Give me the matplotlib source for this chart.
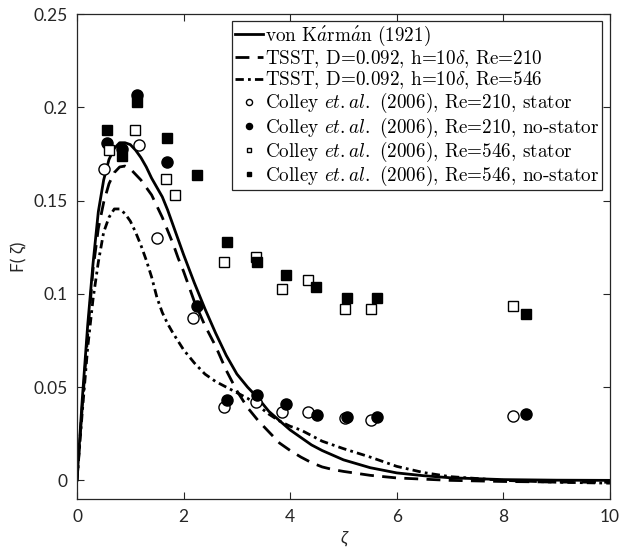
import matplotlib
matplotlib.use("Agg")
import matplotlib.pyplot as plt

plt.rcParams['mathtext.fontset'] = 'cm'
plt.rcParams['font.family'] = ['Lato', 'DejaVu Sans']
plt.rcParams['axes.unicode_minus'] = False

# von Karman (1921)
vk_z = [0, 0.1, 0.2, 0.3, 0.4, 0.5, 0.6, 0.7, 0.8, 0.9, 1.0, 1.1, 1.2, 1.3, 1.4, 1.5,
        1.6, 1.7, 1.8, 1.9, 2.0, 2.2, 2.4, 2.6, 2.8, 3.0, 3.2, 3.4, 3.6, 3.8, 4.0, 4.2,
        4.4, 4.6, 4.8, 5.0, 5.5, 6.0, 6.5, 7.0, 8.0, 9.0, 10]
vk_F = [0, 0.044, 0.083, 0.116, 0.144, 0.161, 0.172, 0.178, 0.181, 0.181, 0.180, 0.177,
        0.173, 0.168, 0.162, 0.157, 0.152, 0.145, 0.137, 0.129, 0.121, 0.106, 0.092,
        0.079, 0.067, 0.057, 0.050, 0.044, 0.037, 0.032, 0.027, 0.023, 0.019, 0.016,
        0.0135, 0.011, 0.0068, 0.0040, 0.0025, 0.0014, 0.0004, 0.0001, 0.0]

# TSST Re=210
t210_z = [0, 0.1, 0.2, 0.3, 0.4, 0.5, 0.6, 0.7, 0.8, 0.9, 1.0, 1.1, 1.2, 1.3, 1.4, 1.5,
          1.6, 1.7, 1.8, 1.9, 2.0, 2.2, 2.4, 2.6, 2.8, 3.0, 3.2, 3.4, 3.6, 3.8, 4.0, 4.2,
          4.4, 4.6, 4.8, 5.0, 5.5, 6.0, 7.0, 8.0, 9.0, 10]
t210_F = [0, 0.040, 0.078, 0.113, 0.135, 0.149, 0.159, 0.165, 0.168, 0.1685, 0.167,
          0.164, 0.161, 0.157, 0.153, 0.147, 0.141, 0.134, 0.127, 0.119, 0.112, 0.096,
          0.083, 0.072, 0.059, 0.048, 0.039, 0.032, 0.026, 0.020, 0.016, 0.0125, 0.0095,
          0.0072, 0.0058, 0.0048, 0.0027, 0.0013, 0.0, -0.0006, -0.0009, -0.001]

# TSST Re=546
t546_z = [0, 0.1, 0.2, 0.3, 0.4, 0.5, 0.6, 0.7, 0.8, 0.9, 1.0, 1.1, 1.2, 1.3, 1.4, 1.5,
          1.6, 1.7, 1.8, 1.9, 2.0, 2.2, 2.4, 2.6, 2.8, 3.0, 3.2, 3.4, 3.6, 3.8, 4.0, 4.2,
          4.4, 4.6, 4.8, 5.0, 5.5, 6.0, 6.5, 7.0, 8.0, 9.0, 10]
t546_F = [0, 0.037, 0.071, 0.097, 0.117, 0.133, 0.141, 0.1455, 0.1455, 0.143, 0.139,
          0.133, 0.126, 0.118, 0.109, 0.098, 0.090, 0.084, 0.079, 0.0745, 0.070, 0.063,
          0.057, 0.053, 0.050, 0.047, 0.044, 0.040, 0.0355, 0.0318, 0.029, 0.027, 0.024,
          0.021, 0.019, 0.017, 0.0125, 0.0075, 0.0042, 0.002, 0.0, -0.001, -0.0015]

# Colley et al. (2006)
c210s_z = [0.50, 1.17, 1.51, 2.17, 2.76, 3.35, 3.85, 4.33, 5.02, 5.51, 8.18]
c210s_F = [0.167, 0.180, 0.130, 0.087, 0.0394, 0.0421, 0.0367, 0.0364, 0.0335, 0.0326, 0.0344]
c210n_z = [0.57, 0.85, 1.13, 1.69, 2.26, 2.82, 3.37, 3.93, 4.50, 5.06, 5.62, 8.42]
c210n_F = [0.181, 0.1774, 0.2065, 0.1706, 0.0937, 0.043, 0.046, 0.041, 0.0353, 0.034, 0.034, 0.0358]
c546s_z = [0.60, 1.09, 1.67, 1.84, 2.76, 3.35, 3.85, 4.34, 5.02, 5.51, 8.18]
c546s_F = [0.177, 0.188, 0.1613, 0.1529, 0.117, 0.120, 0.1027, 0.1072, 0.0919, 0.0919, 0.0935]
c546n_z = [0.57, 0.85, 1.13, 1.69, 2.26, 2.82, 3.37, 3.93, 4.49, 5.06, 5.62, 8.42]
c546n_F = [0.188, 0.174, 0.203, 0.1837, 0.1638, 0.1276, 0.117, 0.1099, 0.1034, 0.0977, 0.0977, 0.0891]

labels = [r'von K$\acute{a}$rm$\acute{a}$n (1921)',
          r'TSST, D=0.092, h=10$\delta$, Re=210',
          r'TSST, D=0.092, h=10$\delta$, Re=546',
          r'Colley $et.al.$ (2006), Re=210, stator',
          r'Colley $et.al.$ (2006), Re=210, no-stator',
          r'Colley $et.al.$ (2006), Re=546, stator',
          r'Colley $et.al.$ (2006), Re=546, no-stator']

fig = plt.figure(figsize=(6.19, 5.59), dpi=100)
ax = fig.add_axes([0.1244, 0.1073, 0.861, 0.8676])

ax.plot(vk_z, vk_F, color='black', lw=2, label=labels[0])
ax.plot(t210_z, t210_F, color='black', lw=2, dashes=(5, 3), label=labels[1])
ax.plot(t546_z, t546_F, color='black', lw=2, dashes=(3, 1.5, 1, 1.5), label=labels[2])

ax.plot(c210s_z, c210s_F, 'o', mfc='white', mec='black', ms=8, mew=1, label=labels[3])
ax.plot(c210n_z, c210n_F, 'o', mfc='black', mec='black', ms=8, mew=1, label=labels[4])
ax.plot(c546s_z, c546s_F, 's', mfc='white', mec='black', ms=6.5, mew=1, label=labels[5])
ax.plot(c546n_z, c546n_F, 's', mfc='black', mec='black', ms=6.5, mew=1, label=labels[6])

ax.set_xlim(0, 10)
ax.set_ylim(-0.01, 0.25)
ax.set_xticks([0, 2, 4, 6, 8, 10])
ax.set_xticklabels(['0', '2', '4', '6', '8', '10'])
ax.set_yticks([0, 0.05, 0.1, 0.15, 0.2, 0.25])
ax.set_yticklabels(['0', '0.05', '0.1', '0.15', '0.2', '0.25'])
ax.tick_params(direction='in', top=True, right=True, labelsize=12.5,
               length=5, width=0.8, colors='#262626', pad=7)
for s in ax.spines.values():
    s.set_color('#262626')
    s.set_linewidth(0.9)

ax.set_xlabel('ζ', fontsize=13, color='#262626', style='italic')
ax.set_ylabel('F( ζ)', fontsize=12.5, color='#262626', labelpad=4)

leg = ax.legend(loc='upper right', bbox_to_anchor=(0.985, 0.985),
                prop={'family': 'cmr10', 'size': 13.8}, handlelength=1.5,
                handletextpad=0.1, labelspacing=0.0, borderpad=0.12,
                borderaxespad=0.0, markerscale=0.55, fancybox=False, framealpha=1)
leg.get_frame().set_edgecolor('#262626')
leg.get_frame().set_linewidth(0.9)

fig.savefig('out.png', dpi=100)
